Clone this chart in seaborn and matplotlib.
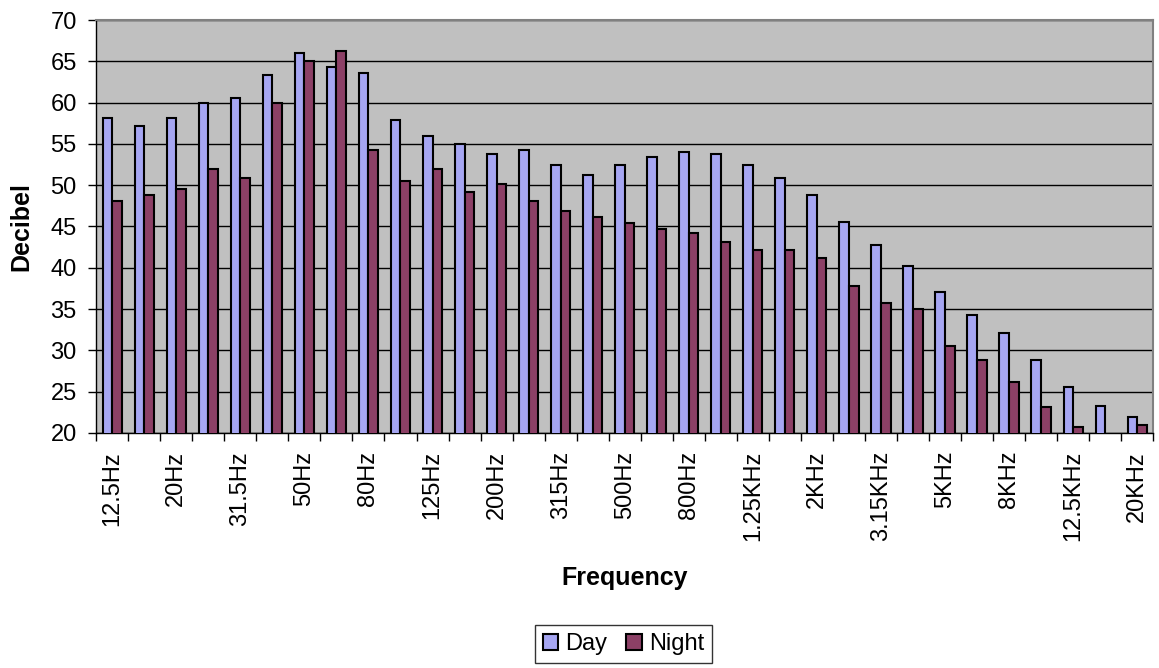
import numpy as np
import pandas as pd
import matplotlib
matplotlib.use('Agg')
import matplotlib.pyplot as plt
import seaborn as sns

# 1/3 octave bands
bands = ['12.5Hz', '16Hz', '20Hz', '25Hz', '31.5Hz', '40Hz', '50Hz', '63Hz',
         '80Hz', '100Hz', '125Hz', '160Hz', '200Hz', '250Hz', '315Hz', '400Hz',
         '500Hz', '630Hz', '800Hz', '1KHz', '1.25KHz', '1.6KHz', '2KHz',
         '2.5KHz', '3.15KHz', '4KHz', '5KHz', '6.3KHz', '8KHz', '10KHz',
         '12.5KHz', '16KHz', '20KHz']
day = [58.1, 57.2, 58.1, 60.0, 60.5, 63.3, 66.0, 64.3, 63.6, 57.9, 56.0,
       55.0, 53.8, 54.3, 52.4, 51.2, 52.4, 53.4, 54.0, 53.8, 52.4, 50.9,
       48.8, 45.5, 42.8, 40.2, 37.1, 34.3, 32.1, 28.8, 25.5, 23.3, 21.9]
night = [48.1, 48.8, 49.5, 51.9, 50.9, 60.0, 65.0, 66.2, 54.3, 50.5, 51.9,
         49.2, 50.2, 48.1, 46.9, 46.2, 45.4, 44.7, 44.2, 43.1, 42.1, 42.1,
         41.2, 37.8, 35.7, 35.0, 30.5, 28.8, 26.1, 23.1, 20.7, np.nan, 20.9]

df = pd.DataFrame({
    'Frequency': bands * 2,
    'Decibel': day + night,
    'Period': ['Day'] * len(bands) + ['Night'] * len(bands),
})

sns.set_style('white')
plt.rcParams['font.family'] = ['Liberation Sans', 'DejaVu Sans']
plt.rcParams['text.color'] = 'black'
plt.rcParams['axes.labelcolor'] = 'black'
plt.rcParams['xtick.color'] = 'black'
plt.rcParams['ytick.color'] = 'black'

fig = plt.figure(figsize=(11.59, 6.68), dpi=100)
ax = fig.add_axes([0.083, 0.352, 0.912, 0.618])

sns.barplot(data=df, x='Frequency', y='Decibel', hue='Period',
            order=bands, hue_order=['Day', 'Night'],
            palette={'Day': '#9999FF', 'Night': '#993366'},
            width=0.6, errorbar=None, edgecolor='black', linewidth=1.5,
            ax=ax, zorder=3)

ax.set_facecolor('#C0C0C0')
ax.set_ylim(20, 70)
ax.set_xlim(-0.5, len(bands) - 0.5)
ax.set_yticks(np.arange(20, 71, 5))
ax.yaxis.grid(True, color='black', linewidth=1)
ax.set_axisbelow(True)

# labels on every other band, tick marks between bands
ax.set_xticks(range(0, len(bands), 2))
ax.set_xticklabels(bands[::2], rotation=90)
ax.set_xticks(np.arange(-0.5, len(bands), 1), minor=True)
ax.tick_params(axis='x', which='major', length=0, pad=13, labelsize=17)
ax.tick_params(axis='x', which='minor', length=6, width=1, color='black',
               direction='out', bottom=True)
ax.tick_params(axis='y', length=6, width=1, color='black', direction='out',
               left=True, labelsize=17, pad=8)

for side in ['left', 'bottom']:
    ax.spines[side].set_color('black')
    ax.spines[side].set_linewidth(1)
for side in ['top', 'right']:
    ax.spines[side].set_color('#808080')
    ax.spines[side].set_linewidth(1.5)

ax.set_xlabel('Frequency', fontsize=18, fontweight='bold', labelpad=18)
ax.set_ylabel('Decibel', fontsize=18, fontweight='bold', labelpad=12)

handles, labels = ax.get_legend_handles_labels()
ax.get_legend().remove()
leg = fig.legend(handles, labels, loc='lower center',
                 bbox_to_anchor=(0.538, 0.0), ncol=2, fontsize=17,
                 frameon=True, fancybox=False, edgecolor='black',
                 handlelength=0.65, handleheight=0.65, handletextpad=0.3,
                 columnspacing=0.8, borderpad=0.35, borderaxespad=0.2)
leg.get_frame().set_linewidth(1)

fig.savefig('out.png', dpi=100)
